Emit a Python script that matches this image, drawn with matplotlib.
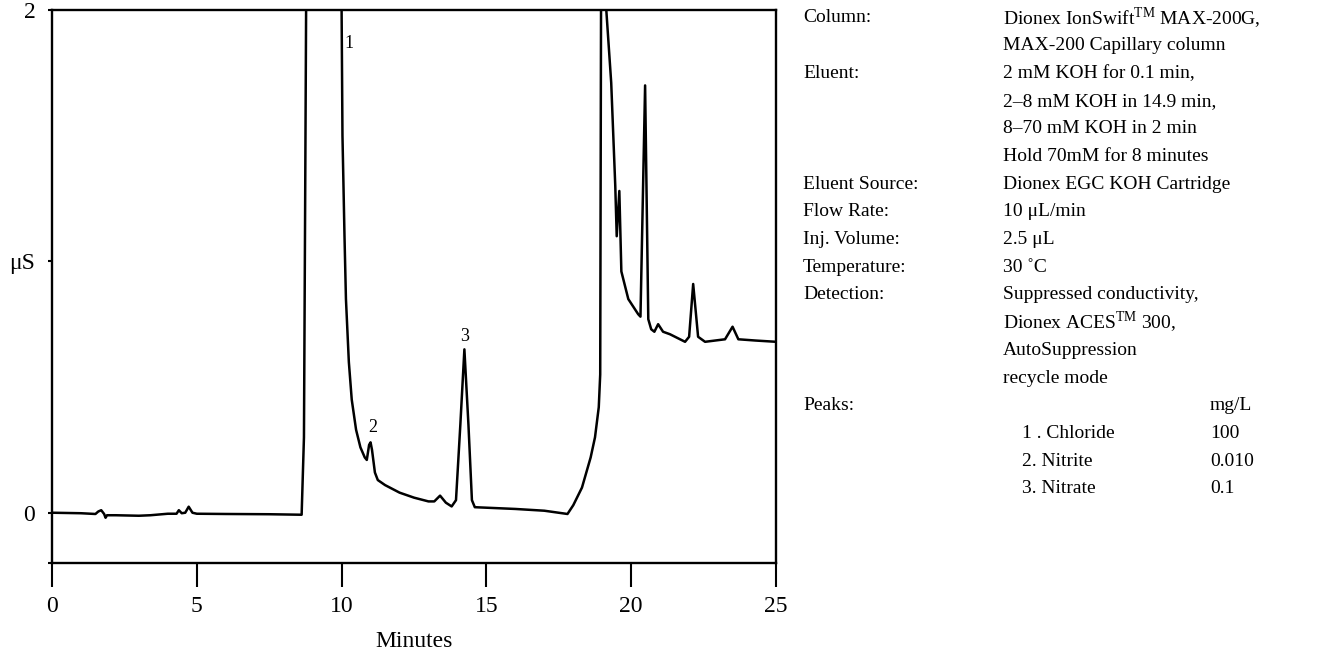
import numpy as np
import matplotlib
matplotlib.use('Agg')
import matplotlib.pyplot as plt

plt.rcParams['font.family'] = ['Liberation Serif', 'DejaVu Serif']
plt.rcParams['mathtext.fontset'] = 'custom'
plt.rcParams['mathtext.rm'] = 'Liberation Serif'

# Chromatogram trace (minutes, uS)
time_min = [0.0, 1.0, 1.5, 1.6, 1.7, 1.8, 1.85, 1.9, 2.2, 3.0, 3.4, 4.0, 4.3,
            4.38, 4.48, 4.6, 4.72, 4.85, 5.0, 6.0, 7.5, 8.62, 8.7, 8.74, 8.8,
            9.9, 10.0, 10.03, 10.1, 10.15, 10.25, 10.35, 10.5, 10.65, 10.8,
            10.87, 10.95, 11.0, 11.05, 11.15, 11.25, 11.5, 11.75, 12.0, 12.5,
            13.0, 13.2, 13.4, 13.6, 13.8, 13.95, 14.1, 14.24, 14.38, 14.5,
            14.6, 15.0, 16.0, 17.0, 17.8, 18.0, 18.3, 18.6, 18.75, 18.88,
            18.93, 18.97, 19.05, 19.14, 19.31, 19.45, 19.5, 19.59, 19.66, 19.9,
            20.24, 20.32, 20.48, 20.59, 20.69, 20.8, 20.93, 21.1, 21.34, 21.86,
            22.0, 22.14, 22.31, 22.55, 23.24, 23.5, 23.7, 24.3, 25.0]
signal_us = [0.0, -0.002, -0.005, 0.005, 0.01, -0.005, -0.02, -0.01, -0.01,
             -0.012, -0.01, -0.004, -0.004, 0.01, -0.002, 0.0, 0.024, 0.0,
             -0.004, -0.005, -0.006, -0.008, 0.3, 1.2, 2.6,
             2.6, 2.0, 1.5, 1.1, 0.85, 0.6, 0.45, 0.33, 0.26, 0.22,
             0.21, 0.27, 0.28, 0.25, 0.16, 0.13, 0.11, 0.095, 0.08, 0.06,
             0.045, 0.045, 0.068, 0.04, 0.025, 0.05, 0.35, 0.65, 0.35, 0.05,
             0.022, 0.02, 0.015, 0.008, -0.005, 0.03, 0.1, 0.22, 0.3, 0.42,
             0.55, 2.6, 2.6, 2.0, 1.71, 1.3, 1.1, 1.28, 0.96, 0.85,
             0.79, 0.78, 1.70, 0.77, 0.73, 0.72, 0.75, 0.72, 0.71, 0.68,
             0.7, 0.91, 0.70, 0.68, 0.69, 0.74, 0.69, 0.685, 0.68]

peak_ids = ['1', '2', '3']
peak_time = [10.24, 11.07, 14.24]
peak_label_y = [1.865, 0.34, 0.70]

cond_labels = ['Column:', 'Eluent:', 'Eluent Source:', 'Flow Rate:',
               'Inj. Volume:', 'Temperature:', 'Detection:', 'Peaks:']
cond_label_rows = [0, 2, 6, 7, 8, 9, 10, 14]
cond_values = ['Dionex IonSwift$^{\\rm TM}$ MAX-200G,', 'MAX-200 Capillary column',
               '2 mM KOH for 0.1 min,', '2\u20138 mM KOH in 14.9 min,',
               '8\u201370 mM KOH in 2 min', 'Hold 70mM for 8 minutes',
               'Dionex EGC KOH Cartridge', '10 \u03bcL/min', '2.5 \u03bcL',
               '30 \u02daC', 'Suppressed conductivity,',
               'Dionex ACES$^{\\rm TM}$ 300,', 'AutoSuppression', 'recycle mode']
peak_names = ['1 . Chloride', '2. Nitrite', '3. Nitrate']
peak_conc = ['100', '0.010', '0.1']

W, H = 1328, 652
fig = plt.figure(figsize=(W / 100, H / 100), dpi=100)
ax = fig.add_axes([52 / W, 1 - 563 / H, (776 - 52) / W, (563 - 10) / H])

ax.plot(time_min, signal_us, color='black', lw=1.8, solid_joinstyle='round')
for pid, pt, py in zip(peak_ids, peak_time, peak_label_y):
    ax.text(pt, py, pid, fontsize=13, ha='center', va='center')

ax.set_xlim(0, 25)
ax.set_ylim(-0.2, 2.0)
ax.set_xticks([0, 5, 10, 15, 20, 25])
ax.set_yticks([-0.2, 0, 1, 2])
ax.set_yticklabels(['', '0', '\u03bcS', '2'])
ax.tick_params(axis='x', direction='out', length=17, width=1.5,
               labelsize=17, pad=7)
ax.tick_params(axis='y', direction='out', length=3, width=1.5,
               labelsize=17, pad=9)
for sp in ax.spines.values():
    sp.set_linewidth(1.7)
ax.set_xlabel('Minutes', fontsize=17, labelpad=10)

# Conditions panel
fs = 14
row0, dy = 18, 27.7
x_lab, x_val, x_conc = 803, 1003, 1210
for lab, r in zip(cond_labels, cond_label_rows):
    fig.text(x_lab / W, 1 - (row0 + r * dy) / H, lab, fontsize=fs, va='center')
for i, v in enumerate(cond_values):
    fig.text(x_val / W, 1 - (row0 + i * dy) / H, v, fontsize=fs, va='center')
fig.text(x_conc / W, 1 - (row0 + 14 * dy) / H, 'mg/L', fontsize=fs, va='center')
for i, (n, c) in enumerate(zip(peak_names, peak_conc)):
    y = 1 - (row0 + (15 + i) * dy) / H
    fig.text((x_val + 19) / W, y, n, fontsize=fs, va='center')
    fig.text(x_conc / W, y, c, fontsize=fs, va='center')

fig.savefig('out.png', dpi=100)
